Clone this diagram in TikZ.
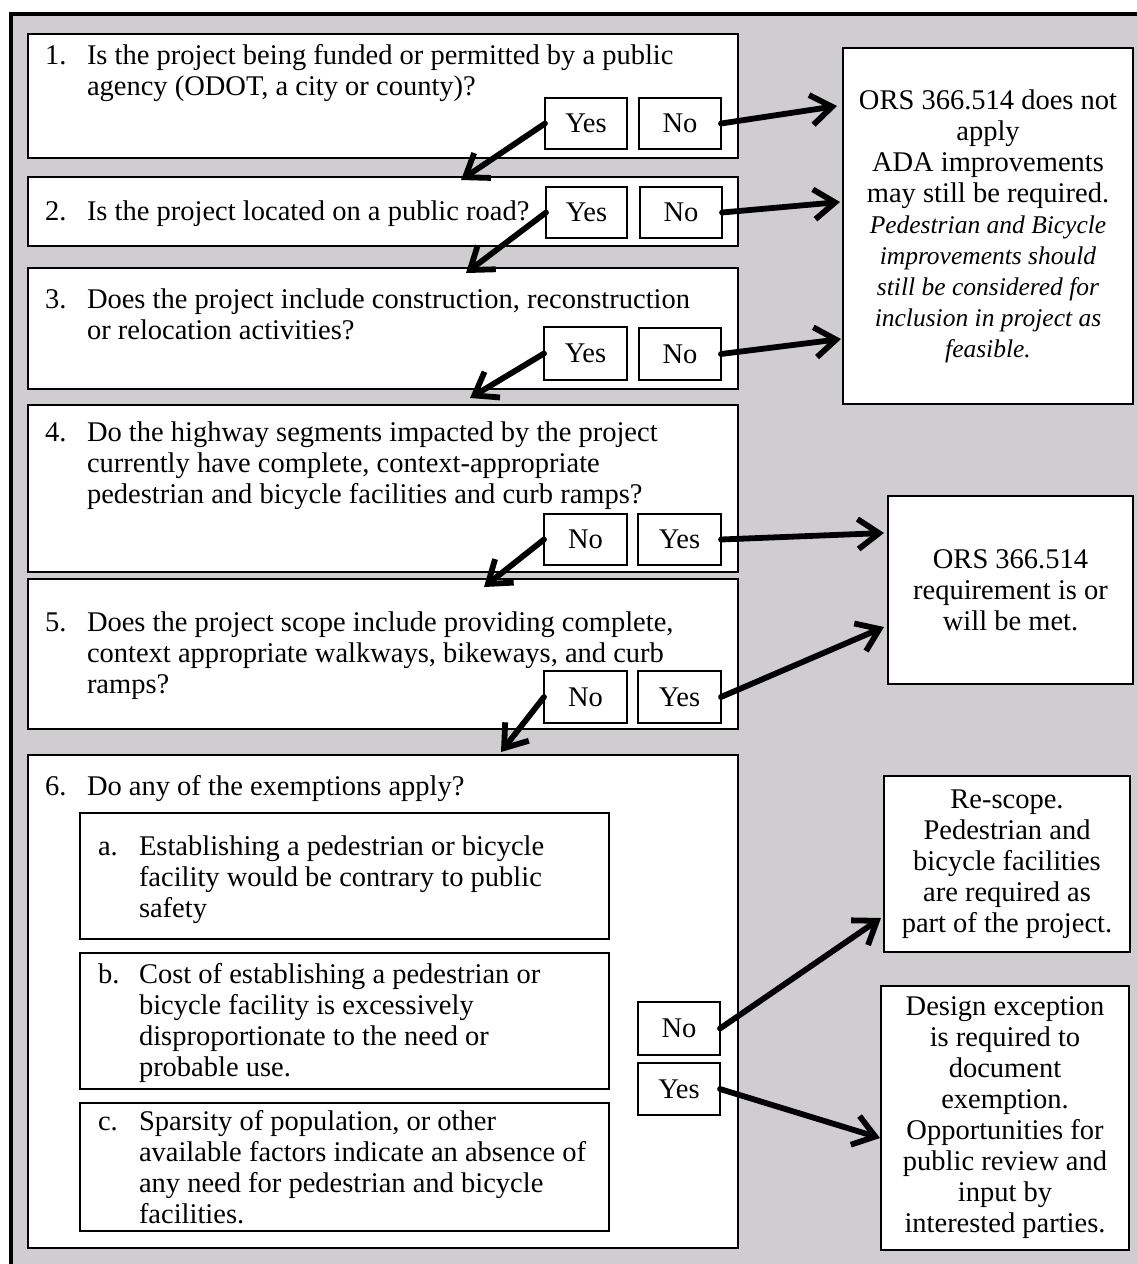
\documentclass[tikz,border=0pt]{standalone}
\usepackage{fontspec}
\setmainfont{Liberation Serif}
\usetikzlibrary{arrows.meta}
\definecolor{bggray}{RGB}{207,205,207}
\newcommand{\qtext}[1]{\parbox[t]{680pt}{\raggedright #1}}
\newcommand{\itx}[1]{{\fontsize{25.5}{31}\selectfont\itshape #1}}
\begin{document}
\begin{tikzpicture}[x=1pt,y=-1pt,
  font=\fontsize{28.5}{31}\selectfont,
  box/.style={draw, line width=2.2pt, fill=white, inner sep=0pt, outer sep=0pt, anchor=north west},
  sub/.style={box, line width=2.4pt},
  yn/.style={box},
  res/.style={box, align=center},
  qn/.style={anchor=base west, inner sep=0pt, outer sep=0pt},
  arr/.style={line width=5.8pt, line cap=round, line join=round, -{Straight Barb[length=21pt,width=30pt]}},
  frame/.style={draw, line width=4pt, fill=bggray}]
\useasboundingbox[fill=white] (0,0) rectangle (1137,1264);
\path[frame] (10.5,13.5) rectangle (1160,1290);

% question boxes
\node[box, minimum width=710pt, minimum height=124pt] (b1) at (28,34) {};
\node[box, minimum width=710pt, minimum height=69pt]  (b2) at (28,177) {};
\node[box, minimum width=710pt, minimum height=121pt] (b3) at (28,268) {};
\node[box, minimum width=710pt, minimum height=167pt] (b4) at (28,405) {};
\node[box, minimum width=710pt, minimum height=150pt] (b5) at (28,579) {};
\node[box, minimum width=710pt, minimum height=493pt] (b6) at (28,755) {};
\node[sub, minimum width=529pt, minimum height=126pt] (sa) at (80,813) {};
\node[sub, minimum width=529pt, minimum height=136pt] (sb) at (80,953) {};
\node[sub, minimum width=529pt, minimum height=128pt] (sc) at (80,1103) {};

% yes / no boxes
\node[yn, minimum width=82pt, minimum height=51pt] (y1) at (545,98) {Yes};
\node[yn, minimum width=82pt, minimum height=51pt] (n1) at (639,98) {No};
\node[yn, minimum width=81pt, minimum height=51pt] (y2) at (546,187) {Yes};
\node[yn, minimum width=82pt, minimum height=51pt] (n2) at (640,187) {No};
\node[yn, minimum width=83pt, minimum height=53pt] (y3) at (544,327) {Yes};
\node[yn, minimum width=82pt, minimum height=52pt] (n3) at (639,328) {No};
\node[yn, minimum width=83pt, minimum height=51pt] (n4) at (544,514) {No};
\node[yn, minimum width=83pt, minimum height=51pt] (y4) at (638,514) {Yes};
\node[yn, minimum width=83pt, minimum height=52pt] (n5) at (544,671) {No};
\node[yn, minimum width=83pt, minimum height=52pt] (y5) at (638,671) {Yes};
\node[yn, minimum width=82pt, minimum height=53pt] (n6) at (638,1002) {No};
\node[yn, minimum width=82pt, minimum height=52pt] (y6) at (638,1063) {Yes};

% result boxes
\node[res, minimum width=290pt, minimum height=356pt] (A) at (843,48)
  {ORS 366.514 does not\\apply\\ADA improvements\\may still be required.\\
   \itx{Pedestrian and Bicycle}\\\itx{improvements should}\\\itx{still be considered for}\\
   \itx{inclusion in project as}\\\itx{feasible.}};
\node[res, minimum width=245pt, minimum height=188pt] (B) at (888,496)
  {ORS 366.514\\requirement is or\\will be met.};
\node[res, minimum width=246pt, minimum height=176pt] (C) at (884,776)
  {Re-scope.\\Pedestrian and\\bicycle facilities\\are required as\\part of the project.};
\node[res, minimum width=248pt, minimum height=264pt] (D) at (881,986)
  {Design exception\\is required to\\document\\exemption.\\Opportunities for\\public review and\\input by\\interested parties.};

% question texts
\node[qn] (q1n) at (45,64) {1.};
\node[qn] (q1t) at (87,64) {\qtext{Is the project being funded or permitted by a public\\agency (ODOT, a city or county)?}};
\node[qn] (q2n) at (45,220) {2.};
\node[qn] (q2t) at (87,220) {\qtext{Is the project located on a public road?}};
\node[qn] (q3n) at (45,308) {3.};
\node[qn] (q3t) at (87,308) {\qtext{Does the project include construction, reconstruction\\or relocation activities?}};
\node[qn] (q4n) at (45,441) {4.};
\node[qn] (q4t) at (87,441) {\qtext{Do the highway segments impacted by the project\\currently have complete, context-appropriate\\pedestrian and bicycle facilities and curb ramps?}};
\node[qn] (q5n) at (45,631) {5.};
\node[qn] (q5t) at (87,631) {\qtext{Does the project scope include providing complete,\\context appropriate walkways, bikeways, and curb\\ramps?}};
\node[qn] (q6n) at (45,795) {6.};
\node[qn] (q6t) at (87,795) {\qtext{Do any of the exemptions apply?}};
\node[qn] (an) at (98,855) {a.};
\node[qn] (at) at (139,855) {\qtext{Establishing a pedestrian or bicycle\\facility would be contrary to public\\safety}};
\node[qn] (bn) at (98,983) {b.};
\node[qn] (bt) at (139,983) {\qtext{Cost of establishing a pedestrian or\\bicycle facility is excessively\\disproportionate to the need or\\probable use.}};
\node[qn] (cn) at (98,1130) {c.};
\node[qn] (ct) at (139,1130) {\qtext{Sparsity of population, or other\\available factors indicate an absence of\\any need for pedestrian and bicycle\\facilities.}};

% arrows down
\draw[arr] (y1.west) -- ([shift={(433,3)}]b2.north west);
\draw[arr] (y2.west) -- ([shift={(438,5)}]b3.north west);
\draw[arr] (y3.west) -- ([shift={(442,-7)}]b4.north west);
\draw[arr] (n4.west) -- ([shift={(456,8)}]b5.north west);
\draw[arr] (n5.west) -- ([shift={(473,-3)}]b6.north west);
% arrows right
\draw[arr] (n1.east) -- ([shift={(-6,58)}]A.north west);
\draw[arr] (n2.east) -- ([shift={(-3,154)}]A.north west);
\draw[arr] (n3.east) -- ([shift={(-2,291)}]A.north west);
\draw[arr] (y4.east) -- ([shift={(-4,37)}]B.north west);
\draw[arr] (y5.east) -- ([shift={(-4,131)}]B.north west);
\draw[arr] (n6.east) -- ([shift={(-3,142)}]C.north west);
\draw[arr] (y6.east) -- ([shift={(-1,152)}]D.north west);
\end{tikzpicture}
\end{document}
